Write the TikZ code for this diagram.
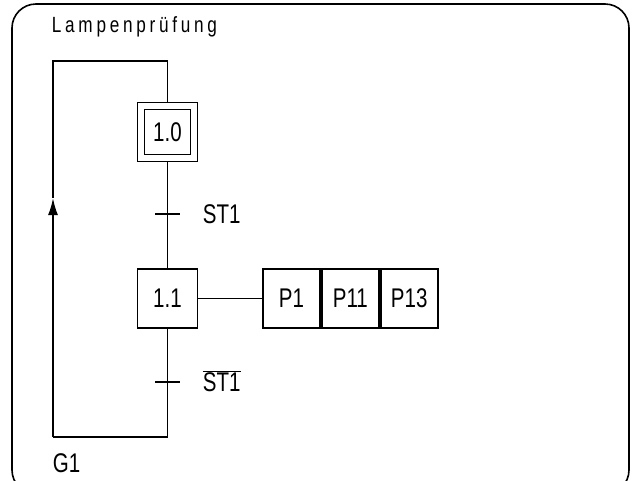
\documentclass[tikz,border=0pt]{standalone}
\usepackage{fontspec}
\setmainfont[FakeStretch=0.76]{Liberation Sans}
\newfontfamily\titlefont[FakeStretch=0.78,LetterSpace=17]{Liberation Sans}
\usetikzlibrary{arrows.meta}
\begin{document}
\begin{tikzpicture}[x=1pt,y=-1pt,
  line width=1.9pt,
  txt/.style={font=\fontsize{27}{29}\selectfont},
  stepbox/.style={draw,txt,minimum width=60pt,minimum height=59pt,inner sep=0pt},
  innerbox/.style={draw,txt,minimum width=46pt,minimum height=45pt,inner sep=0pt},
  actbox/.style={draw,txt,minimum width=57pt,minimum height=59pt,inner sep=0pt},
  lbl/.style={txt,anchor=west,inner sep=0pt},
  tick/.style={line width=1.9pt}]
\useasboundingbox (0,0) rectangle (632,480);
% outer frame (its lower edge runs below the page)
\draw[line width=1.6pt,rounded corners=24pt] (12,4) rectangle (629,494);
\node[anchor=base west,inner sep=0pt,font=\titlefont\fontsize{22}{24}\selectfont] (title) at (51,32) {Lampenprüfung};

% steps
\node[stepbox] (s10) at (167.5,132) {};
\node[innerbox] (s10i) at (s10.center) {1.0};
\node[stepbox] (s11) at (167.5,298.5) {1.1};

% action block
\node[actbox,anchor=west] (a1) at (262,298.5) {P1};
\node[actbox,anchor=west] (a2) at (a1.east) {P11};
\node[actbox,anchor=west] (a3) at (a2.east) {P13};
\draw (s11.east) -- (a1.west);

% loop coordinates
\coordinate (tr) at (167.5,61);
\coordinate (tl) at (53,61);
\coordinate (bl) at (53,437);
\coordinate (br) at (167.5,437);
\coordinate (arr) at (53,198);

\draw (s10.north) -- (tr) -- (tl) -- (arr);
\draw[-{Latex[length=17pt,width=10pt]}] (bl) -- (arr);
\draw (bl) -- (br) -- (s11.south);
\draw (s10.south) -- (s11.north);

% transitions
\coordinate (t1) at (167.5,214);
\coordinate (t2) at (167.5,382);
\draw[tick] ([xshift=-12.5pt]t1) -- ([xshift=12.5pt]t1);
\draw[tick] ([xshift=-12.5pt]t2) -- ([xshift=12.5pt]t2);
\node[lbl] (c1) at (202,214) {ST1};
\node[lbl] (c2) at (202,381) {$\overline{\mbox{ST1}}$};

\node[txt,anchor=base west,inner sep=0pt] (g1) at (52,472) {G1};
\end{tikzpicture}
\end{document}
